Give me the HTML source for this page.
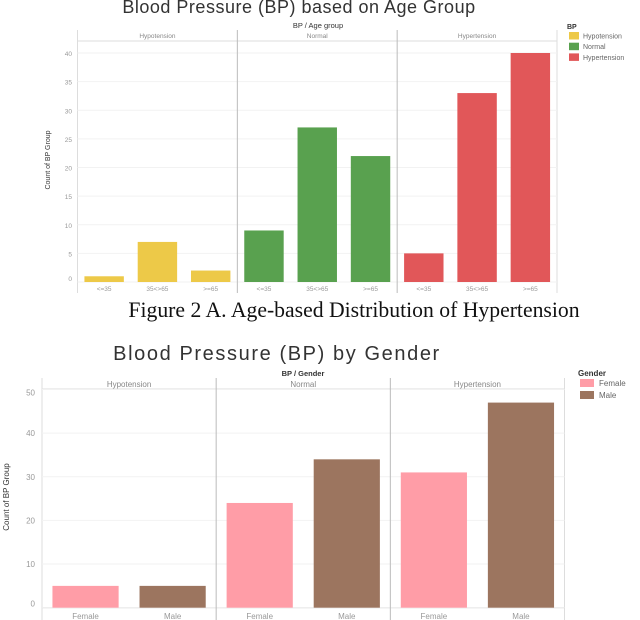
<!DOCTYPE html>
<html><head><meta charset="utf-8"><style>
body{margin:0;background:#fff;width:640px;height:620px;overflow:hidden}
svg{display:block}
</style></head><body>
<svg id="s" width="640" height="620" xmlns="http://www.w3.org/2000/svg" font-family="Liberation Sans, sans-serif">
<text x="299" y="13" text-anchor="middle" font-size="18" letter-spacing="0.5" fill="#333">Blood Pressure (BP) based on Age Group</text>
<text x="318" y="28" text-anchor="middle" font-size="7.5" fill="#333">BP / Age group</text>
<text x="50" y="160" text-anchor="middle" font-size="7" fill="#333" transform="rotate(-90 50 160)">Count of BP Group</text>
<text x="567" y="29" font-size="7" font-weight="bold" fill="#333">BP</text>
<text x="354" y="317" text-anchor="middle" font-family="Liberation Serif, serif" font-size="21.7" fill="#111">Figure 2 A. Age-based Distribution of Hypertension</text>
<text x="277" y="360" text-anchor="middle" font-size="20" letter-spacing="1.6" fill="#333">Blood Pressure (BP) by Gender</text>
<text x="303" y="376" text-anchor="middle" font-size="7.5" font-weight="bold" fill="#333">BP / Gender</text>
<text x="9" y="497" text-anchor="middle" font-size="8" fill="#333" transform="rotate(-90 9 497)">Count of BP Group</text>
<text x="578" y="376" font-size="8" font-weight="bold" fill="#333">Gender</text>
<g id="c1"></g><g id="c2"></g>
</svg>
<script>
const panels1 = ["Hypotension","Normal","Hypertension"];
const ages = ["<=35","35<>65",">=65"];
const hypoAge = [1,7,2];
const normalAge = [9,27,22];
const hyperAge = [5,33,40];
const ticks1 = [0,5,10,15,20,25,30,35,40];
const colors1 = ["#edc948","#59a14f","#e15759"];

const panels2 = ["Hypotension","Normal","Hypertension"];
const genders = ["Female","Male"];
const femaleVals = [5,24,31];
const maleVals = [5,34,47];
const ticks2 = [0,10,20,30,40,50];
const colors2 = ["#ff9da7","#9c755f"];

const NS="http://www.w3.org/2000/svg";
function mk(parent,tag,attrs,txt){const e=document.createElementNS(NS,tag);for(const k in attrs)e.setAttribute(k,attrs[k]);if(txt!==undefined)e.textContent=txt;parent.appendChild(e);return e;}

function drawChart(g,o){
  const y=v=>o.y0-(v/o.ymax)*(o.y0-o.ytop);
  const pw=(o.x1-o.x0)/o.panels.length;
  mk(g,'line',{x1:o.x0,y1:o.hTop,x2:o.x0,y2:o.bot,stroke:'#ddd'});
  mk(g,'line',{x1:o.x1,y1:o.hTop,x2:o.x1,y2:o.bot,stroke:'#ddd'});
  mk(g,'line',{x1:o.x0,y1:o.hLine,x2:o.x1,y2:o.hLine,stroke:'#ddd'});
  mk(g,'line',{x1:o.x0,y1:o.y0,x2:o.x1,y2:o.y0,stroke:'#ccc'});
  o.ticks.forEach((t,i)=>{
    const yy=y(t);
    mk(g,'line',{x1:o.x0,y1:yy,x2:o.x1,y2:yy,stroke:'#f2f2f2'});
    let ly=yy+3;
    if(i===0) ly=yy-1; if(i===o.ticks.length-1 && o.clampTop) ly=yy+6;
    const tl=mk(g,'text',{x:o.tx,y:ly,'text-anchor':'end','font-size':o.fs,fill:'#999'},t);
    
    
  });
  o.panels.forEach((p,pi)=>{
    const px=o.x0+pi*pw;
    if(pi>0){mk(g,'line',{x1:px,y1:o.hTop,x2:px,y2:o.bot,stroke:'#bbb'});}
    const h=mk(g,'text',{x:px+pw/2,y:o.hText,'text-anchor':'middle','font-size':o.fs,fill:'#888'},p);
    
    
    const n=o.cats.length, cw=pw/n;
    o.cats.forEach((c,ci)=>{
      const v=o.val(pi,ci);
      const cx=px+cw*(ci+0.5);
      const bw=cw*o.barFrac;
      const r=mk(g,'rect',{x:cx-bw/2,y:y(v),width:bw,height:o.y0-y(v),fill:o.col(pi,ci)});
      
      
      const xl=mk(g,'text',{x:cx,y:o.xLab,'text-anchor':'middle','font-size':o.fs,fill:'#999'},c);
      
      
    });
  });
  o.legend.forEach((L,i)=>{
    const r=mk(g,'rect',{x:o.lx,y:o.ly+i*o.lstep,width:o.lw,height:o.lh,fill:L[1]});
    
    
    const t=mk(g,'text',{x:o.ltx,y:o.ly+i*o.lstep+o.lh-1,'font-size':o.lfs,fill:'#666'},L[0]);
    
    
  });
}
const series1=[hypoAge,normalAge,hyperAge];
drawChart(document.getElementById('c1'),{x0:77.5,x1:557,hTop:30,hLine:41,hText:38,bot:293,y0:282,ytop:53,ymax:40,
  ticks:ticks1,tx:72,fs:6.5,panels:panels1,cats:ages,val:(p,c)=>series1[p][c],col:(p)=>colors1[p],barFrac:0.74,
  xLab:291,legend:[["Hypotension",colors1[0]],["Normal",colors1[1]],["Hypertension",colors1[2]]],
  lx:569,ly:32,lstep:10.7,lw:10,lh:7.5,ltx:583,lfs:7});
const series2=[femaleVals,maleVals];
drawChart(document.getElementById('c2'),{x0:42,x1:564.5,hTop:378,hLine:389,hText:387,bot:620,y0:607.7,ytop:389.5,ymax:50,
  ticks:ticks2,tx:35,fs:8,panels:panels2,cats:genders,val:(p,c)=>series2[c][p],col:(p,c)=>colors2[c],barFrac:0.76,clampTop:true,
  xLab:619,legend:[["Female",colors2[0]],["Male",colors2[1]]],
  lx:580,ly:379,lstep:12,lw:14,lh:8,ltx:599,lfs:8});
</script>
</body></html>
